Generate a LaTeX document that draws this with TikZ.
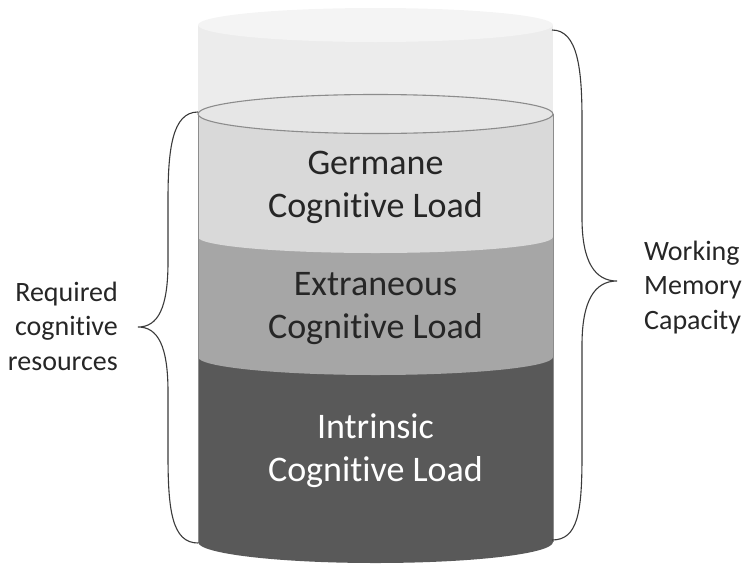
\documentclass[tikz,border=0pt]{standalone}
\usepackage{fontspec}
\setmainfont{Carlito}[Ligatures=NoCommon]
\definecolor{capTop}{HTML}{F4F4F4}
\definecolor{capBody}{HTML}{ECECEC}
\definecolor{gerTop}{HTML}{E6E6E6}
\definecolor{gerBody}{HTML}{D9D9D9}
\definecolor{extBody}{HTML}{A6A6A6}
\definecolor{intBody}{HTML}{595959}
\definecolor{rimLine}{HTML}{8C8C8C}
\definecolor{braceLine}{HTML}{3A3A3A}
\definecolor{txtDark}{HTML}{262626}
\tikzset{
  bigtext/.style={align=center, anchor=base, font=\fontsize{36}{43}\selectfont},
  sidetext/.style={anchor=base, font=\fontsize{28}{34.5}\selectfont, text=txtDark, inner sep=0pt},
  bracestyle/.style={draw=braceLine, line width=1.1pt}
}
\begin{document}
\begin{tikzpicture}[x=1pt,y=-1pt]
\useasboundingbox (0,0) rectangle (746,565);
% outer (working memory) cylinder
\fill[capBody] (198,25) rectangle (553,114);
\fill[capTop] (375.5,25) ellipse [x radius=177.5, y radius=17];
% intrinsic
\fill[intBody] (198,357) rectangle (553,542);
\fill[intBody] (375.5,542) ellipse [x radius=177.5, y radius=21];
% extraneous
\fill[extBody] (198,237) rectangle (553,357);
\fill[extBody] (375.5,357) ellipse [x radius=177.5, y radius=18];
% germane
\fill[gerBody] (198,114) rectangle (553,237);
\fill[gerBody] (375.5,237) ellipse [x radius=177.5, y radius=16];
% side rims
\draw[rimLine, line width=0.6pt] (198,114) -- (198,542) (553,114) -- (553,542);
% top ellipse of germane
\filldraw[fill=gerTop, draw=rimLine, line width=1.1pt] (375.5,114) ellipse [x radius=177.5, y radius=19.5];

% texts (base anchor = baseline of last line)
\node[bigtext, text=txtDark] (ger) at (375.5,217) {Germane\\Cognitive Load};
\node[bigtext, text=txtDark] (ext) at (375.5,338) {Extraneous\\Cognitive Load};
\node[bigtext, text=white] (int) at (375.5,481) {Intrinsic\\Cognitive Load};

\node[sidetext, align=right, anchor=base east] (req) at (118,370) {Required\\cognitive\\resources};
\node[sidetext, align=left, anchor=base west] (wmc) at (644,329) {Working\\Memory\\Capacity};

% braces
\coordinate (lt) at (198,112);
\coordinate (lm) at (138,327);
\coordinate (lb) at (198,543);
\draw[bracestyle] (lt) .. controls (172,112) and (168,150) .. (168,200) -- (168,262)
  .. controls (168,308) and (158,327) .. (lm)
  .. controls (158,327) and (168,346) .. (168,392) -- (168,455)
  .. controls (168,510) and (172,543) .. (lb);
\coordinate (rt) at (552,30);
\coordinate (rm) at (617,281);
\coordinate (rb) at (552,540);
\draw[bracestyle] (rt) .. controls (578,30) and (582,70) .. (582,120) -- (582,218)
  .. controls (582,262) and (595,281) .. (rm)
  .. controls (595,281) and (582,300) .. (582,345) -- (582,455)
  .. controls (582,512) and (578,540) .. (rb);
\end{tikzpicture}
\end{document}
